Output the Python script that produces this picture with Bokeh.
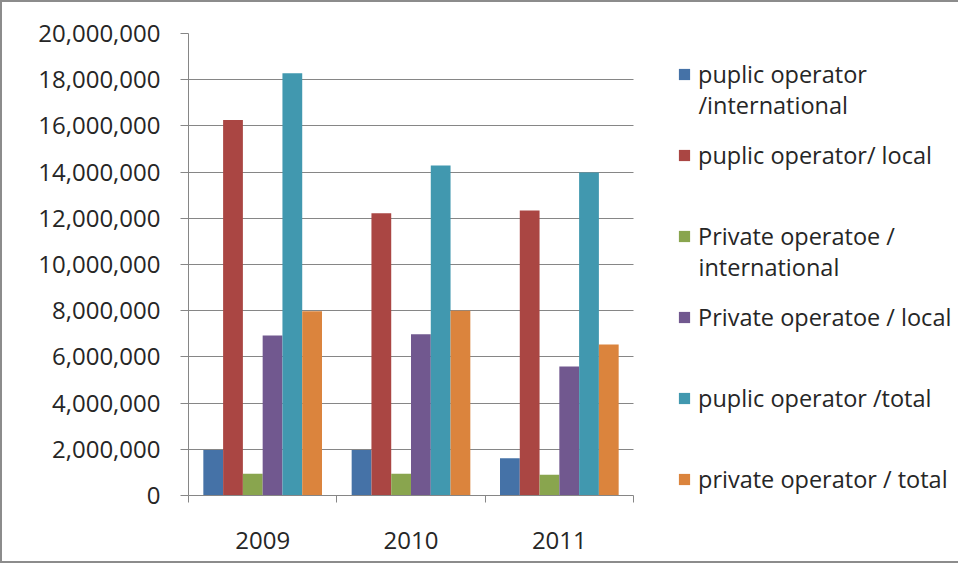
from bokeh.plotting import figure
from bokeh.models import (ColumnDataSource, Range1d, FixedTicker, Grid, Label,
                          NumeralTickFormatter, Legend, LegendItem)
from bokeh.transform import dodge
from bokeh.embed import file_html
from bokeh.resources import INLINE

years = ["2009", "2010", "2011"]
legend_first_lines = [
    "puplic operator",
    "puplic operator/ local",
    "Private operatoe /",
    "Private operatoe / local",
    "puplic operator /total",
    "private operator / total",
]
legend_second_lines = ["/international", "", "international", "", "", ""]
pub_intl = [1970000, 1970000, 1610000]
pub_local = [16260000, 12220000, 12340000]
priv_intl = [940000, 940000, 900000]
priv_local = [6930000, 6980000, 5580000]
pub_total = [18280000, 14290000, 13980000]
priv_total = [7980000, 8000000, 6540000]
y_ticks = [0, 2000000, 4000000, 6000000, 8000000, 10000000,
           12000000, 14000000, 16000000, 18000000, 20000000]

colors = ["#4572A7", "#AA4643", "#89A54E", "#71588F", "#4198AF", "#DB843D"]
keys = ["pub_intl", "pub_local", "priv_intl", "priv_local", "pub_total", "priv_total"]

# layout (pixels)
W, H = 958, 563
ML, MT, MB = 186, 31, 70
FRAME_W = W - ML
FRAME_H = H - MT - MB
BAND_W = 445          # width of the bar area (categories)

centres = [i + 0.5 for i in range(len(years))]
src = ColumnDataSource(dict(year=years, xc=centres, pub_intl=pub_intl, pub_local=pub_local,
                            priv_intl=priv_intl, priv_local=priv_local,
                            pub_total=pub_total, priv_total=priv_total))

FONT = "Open Sans"
TXT = "#262626"
GRID = "#868686"
LEG_FS = "23.5px"

x_end = len(years) * FRAME_W / BAND_W
p = figure(width=W, height=H, x_range=Range1d(0, x_end),
           y_range=Range1d(0, y_ticks[-1]), output_backend="svg",
           toolbar_location=None,
           min_border_left=ML, min_border_right=0, min_border_top=MT,
           min_border_bottom=MB)
p.outline_line_color = None
p.background_fill_color = "white"
p.border_fill_color = "white"
p.styles = {"border-left": "2px solid #8c8c8c", "border-top": "2px solid #8c8c8c",
            "border-bottom": "2px solid #8c8c8c"}

n = len(keys)
w = 1.0 / (n + 1.5)
renderers = []
for j, k in enumerate(keys):
    r = p.vbar(x=dodge("xc", (j - (n - 1) / 2) * w), top=k,
               width=w, source=src, fill_color=colors[j], line_color=None)
    renderers.append(r)

# y axis
ya = p.yaxis[0]
ya.ticker = FixedTicker(ticks=y_ticks)
ya.formatter = NumeralTickFormatter(format="0,0")
ya.axis_line_color = GRID
ya.major_tick_line_color = GRID
ya.major_tick_out = 8
ya.major_tick_in = 0
ya.minor_tick_line_color = None
ya.major_label_standoff = 20
ya.major_label_text_font = FONT
ya.major_label_text_font_size = "24px"
ya.major_label_text_color = TXT

p.xgrid.visible = False
if "cross_bounds" in Grid.properties():
    p.ygrid.grid_line_color = GRID
    p.ygrid.ticker = FixedTicker(ticks=y_ticks)
    p.ygrid.cross_bounds = (0, len(years))
else:
    p.ygrid.visible = False
    p.segment(x0=[0] * len(y_ticks), x1=[len(years)] * len(y_ticks),
              y0=y_ticks, y1=y_ticks, line_color=GRID, line_width=1, level="underlay")

# x axis: labels at category centres, ticks at category boundaries
xa = p.xaxis[0]
xa.bounds = (0, len(years))
xa.ticker = FixedTicker(ticks=centres, minor_ticks=[i for i in range(len(years) + 1)])
xa.major_label_overrides = {c: y for c, y in zip(centres, years)}
xa.axis_line_color = GRID
xa.major_tick_line_color = None
xa.major_tick_out = 0
xa.major_tick_in = 0
xa.minor_tick_line_color = GRID
xa.minor_tick_out = 7
xa.minor_tick_in = 0
xa.major_label_standoff = 29
xa.major_label_text_font = FONT
xa.major_label_text_font_size = "24px"
xa.major_label_text_color = TXT

# legend (positions in pixels from frame bottom-left)
LEG_X = 489
ITEM_H = 36
STEP = 81
BOTTOM_CENTRE = 16
GLYPH = 14
STANDOFF = 7
LINE2 = 30
legend = Legend(items=[LegendItem(label=legend_first_lines[j], renderers=[renderers[j]])
                       for j in range(n)],
                location=(LEG_X, BOTTOM_CENTRE - ITEM_H / 2), glyph_width=GLYPH,
                glyph_height=GLYPH, label_standoff=STANDOFF, label_height=ITEM_H,
                spacing=STEP - ITEM_H, padding=0, margin=0,
                border_line_color=None, background_fill_alpha=0,
                label_text_font=FONT, label_text_font_size=LEG_FS,
                label_text_color=TXT)
p.add_layout(legend)

px_x = x_end / FRAME_W
px_y = y_ticks[-1] / FRAME_H
for j, t in enumerate(legend_second_lines):
    if not t:
        continue
    cy = BOTTOM_CENTRE + (n - 1 - j) * STEP - LINE2
    p.add_layout(Label(x=(LEG_X + GLYPH + STANDOFF) * px_x, y=cy * px_y, text=t,
                       text_baseline="middle", text_align="left",
                       text_font=FONT, text_font_size=LEG_FS,
                       text_color=TXT))

open("out.html", "w").write(file_html(p, INLINE))
